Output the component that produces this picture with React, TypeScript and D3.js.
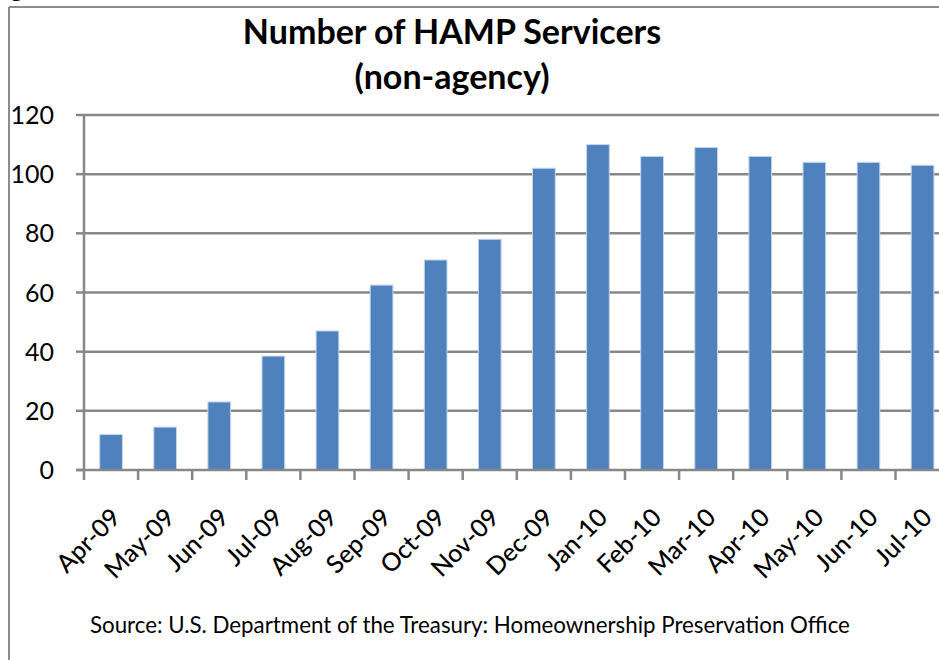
import React from "react";
import * as d3 from "d3";

const categories = ["Apr-09","May-09","Jun-09","Jul-09","Aug-09","Sep-09","Oct-09","Nov-09","Dec-09","Jan-10","Feb-10","Mar-10","Apr-10","May-10","Jun-10","Jul-10"];
const values = [12, 14.5, 23, 38.5, 47, 62.5, 71, 78, 102, 110, 106, 109, 106, 104, 104, 103];
const yTicks = [0, 20, 40, 60, 80, 100, 120];
const titleLines = ["Number of HAMP Servicers", "(non-agency)"];
const sourceText = "Source: U.S. Department of the Treasury: Homeownership Preservation Office";

const W = 939, H = 660;
const x0 = 84, step = 54.1;
const FONT = "Lato, 'Open Sans', sans-serif";

export default function App() {
  const x = d3.scaleBand<string>().domain(categories).range([x0, x0 + step * categories.length]).padding(0);
  const y = d3.scaleLinear().domain([0, 120]).range([470, 115]);
  const bw = x.bandwidth() * 0.42;
  const grid = "#878787";
  return (
    <svg width={W} height={H} style={{ position: "absolute", left: 0, top: 0, background: "#fff" }} fontFamily={FONT}>
      <rect x={0} y={0} width={W} height={H} fill="#fff" />
      <line x1={9} x2={W} y1={7} y2={7} stroke="#8c8c8c" strokeWidth={2} />
      <line x1={9} x2={9} y1={7} y2={H} stroke="#8c8c8c" strokeWidth={2} />
      <text x={10} y={-3} fontSize={26} fontWeight="bold">g</text>
      {titleLines.map((t, i) => (
        <text key={t} x={452} y={44 + i * 45} textAnchor="middle" fontSize={34} fontWeight="bold" fill="#000">{t}</text>
      ))}
      {yTicks.map(v => (
        <g key={v}>
          {v > 0 && <line x1={x0} x2={W} y1={y(v)} y2={y(v)} stroke={grid} strokeWidth={2.5} />}
          <line x1={76} x2={x0} y1={y(v)} y2={y(v)} stroke={grid} strokeWidth={2.5} />
          <text x={54} y={y(v) + 9} textAnchor="end" fontSize={25} fill="#000">{v}</text>
        </g>
      ))}
      {categories.map((c, i) => (
        <rect key={c} x={x(c)! + x.bandwidth() / 2 - bw / 2} y={y(values[i])} width={bw} height={y(0) - y(values[i])}
          fill="#4f81bd" stroke="#c5d5ea" strokeWidth={1} />
      ))}
      <line x1={x0} x2={x0} y1={y(120) - 1} y2={480} stroke={grid} strokeWidth={2.5} />
      <line x1={76} x2={W} y1={y(0)} y2={y(0)} stroke={grid} strokeWidth={2.5} />
      {categories.map((c, i) => (
        <line key={"t" + c} x1={x(c)! + x.bandwidth()} x2={x(c)! + x.bandwidth()} y1={y(0)} y2={480} stroke={grid} strokeWidth={2.5} />
      ))}
      {categories.map(c => {
        const cx = x(c)! + x.bandwidth() / 2 + 11;
        const cy = 519;
        return (
          <text key={"l" + c} x={cx} y={cy} textAnchor="end" fontSize={25} fontWeight={500} fill="#000" transform={`rotate(-45 ${cx} ${cy})`}>{c}</text>
        );
      })}
      <text x={90} y={633} fontSize={22.3} fill="#000">{sourceText}</text>
    </svg>
  );
}
